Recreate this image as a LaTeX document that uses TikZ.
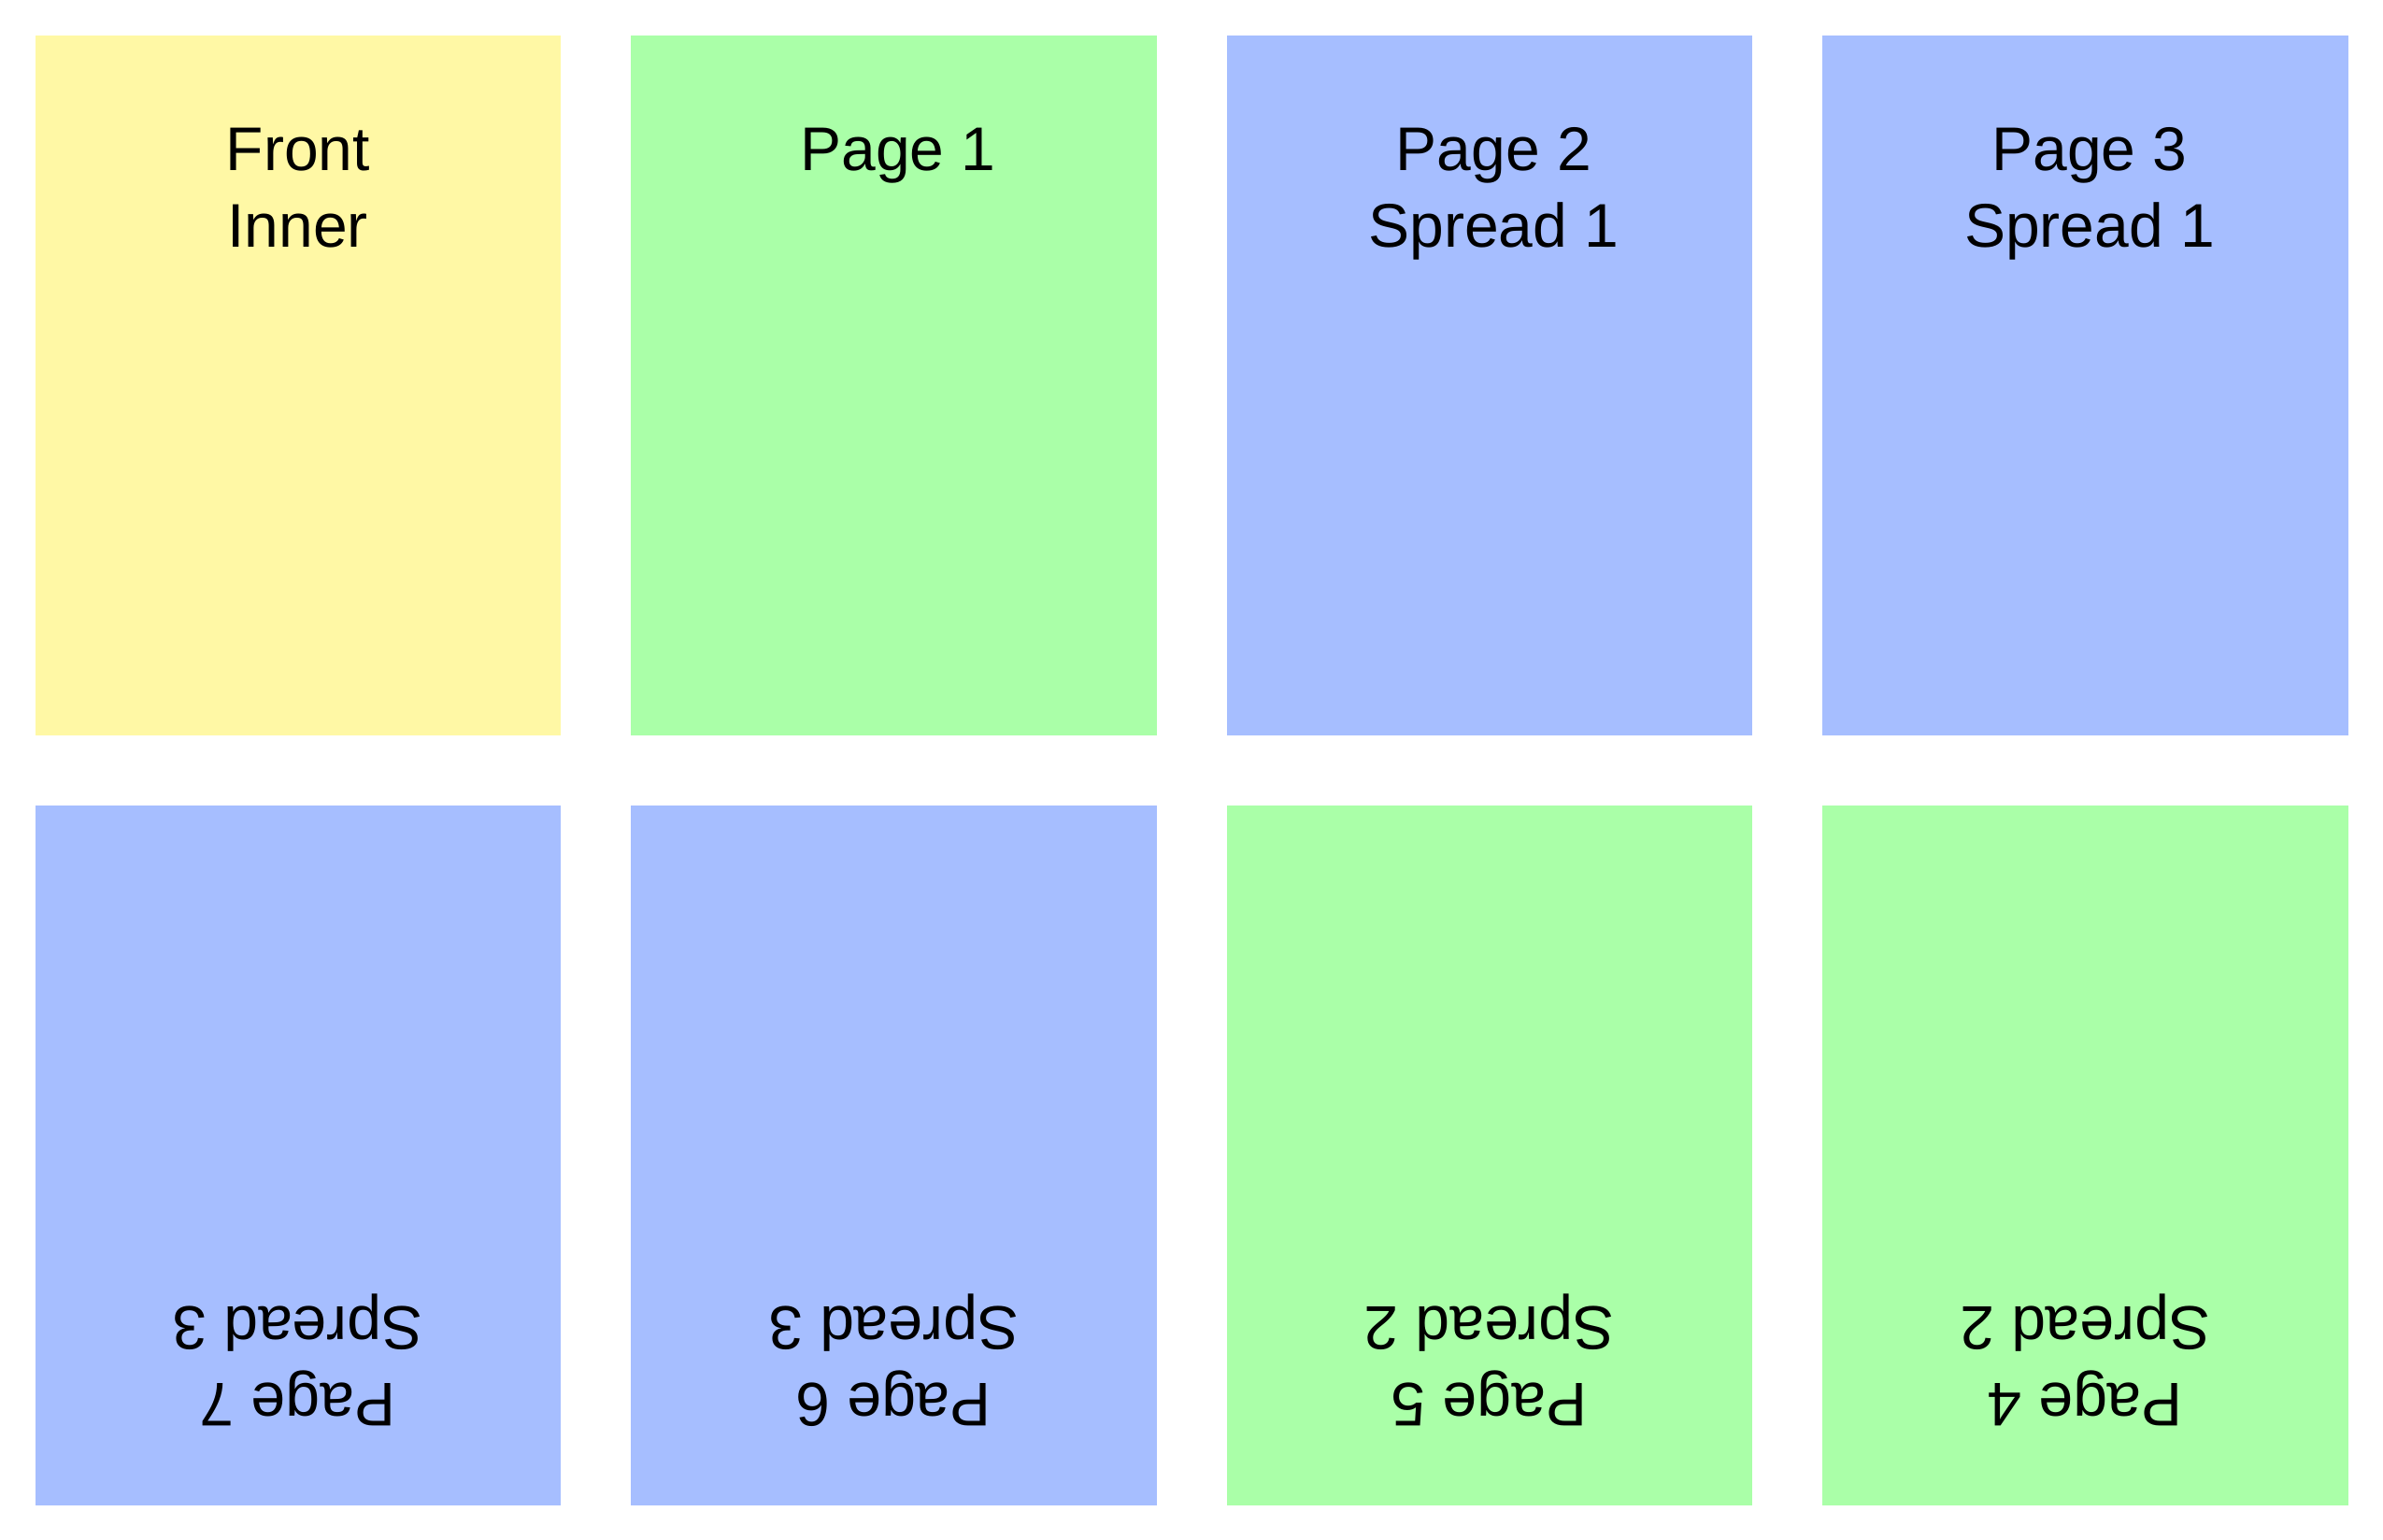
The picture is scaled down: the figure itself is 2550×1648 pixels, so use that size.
\documentclass[tikz,border=0pt]{standalone}
\usepackage{fontspec}
\setmainfont{Liberation Sans}
\definecolor{pyellow}{RGB}{255,248,165}
\definecolor{pgreen}{RGB}{170,255,168}
\definecolor{pblue}{RGB}{166,190,255}
\begin{document}
\begin{tikzpicture}[x=1pt,y=-1pt,
  page/.style={draw=none,fill=#1,rectangle,minimum width=562.5pt,minimum height=749pt,inner sep=0pt,anchor=north west},
  lbl/.style={anchor=base,inner sep=0pt,font=\fontsize{66}{80}\selectfont},
  flipped/.style={lbl,rotate=180}]
\useasboundingbox (0,0) rectangle (2550,1648);
% top row
\node[page=pyellow] (p0) at (37.5,37.5) {};
\node[page=pgreen]  (p1) at (675,37.5) {};
\node[page=pblue]   (p2) at (1312.5,37.5) {};
\node[page=pblue]   (p3) at (1950,37.5) {};
% bottom row
\node[page=pblue]   (p7) at (37.5,861.5) {};
\node[page=pblue]   (p6) at (675,861.5) {};
\node[page=pgreen]  (p5) at (1312.5,861.5) {};
\node[page=pgreen]  (p4) at (1950,861.5) {};
% top labels
\node[lbl] (t0a) at (318.75,183) {Front};
\node[lbl] (t0b) at (318.75,264) {Inner};
\node[lbl] (t1a) at (961,183) {Page 1};
\node[lbl] (t2a) at (1598.5,183) {Page 2};
\node[lbl] (t2b) at (1598.5,264) {Spread 1};
\node[lbl] (t3a) at (2236,183) {Page 3};
\node[lbl] (t3b) at (2236,264) {Spread 1};
% bottom labels (upside down)
\node[flipped] (b7a) at (318.75,1480) {Page 7};
\node[flipped] (b7b) at (318.75,1398) {Spread 3};
\node[flipped] (b6a) at (956.25,1480) {Page 6};
\node[flipped] (b6b) at (956.25,1398) {Spread 3};
\node[flipped] (b5a) at (1593.75,1480) {Page 5};
\node[flipped] (b5b) at (1593.75,1398) {Spread 2};
\node[flipped] (b4a) at (2231.25,1480) {Page 4};
\node[flipped] (b4b) at (2231.25,1398) {Spread 2};
\end{tikzpicture}
\end{document}
